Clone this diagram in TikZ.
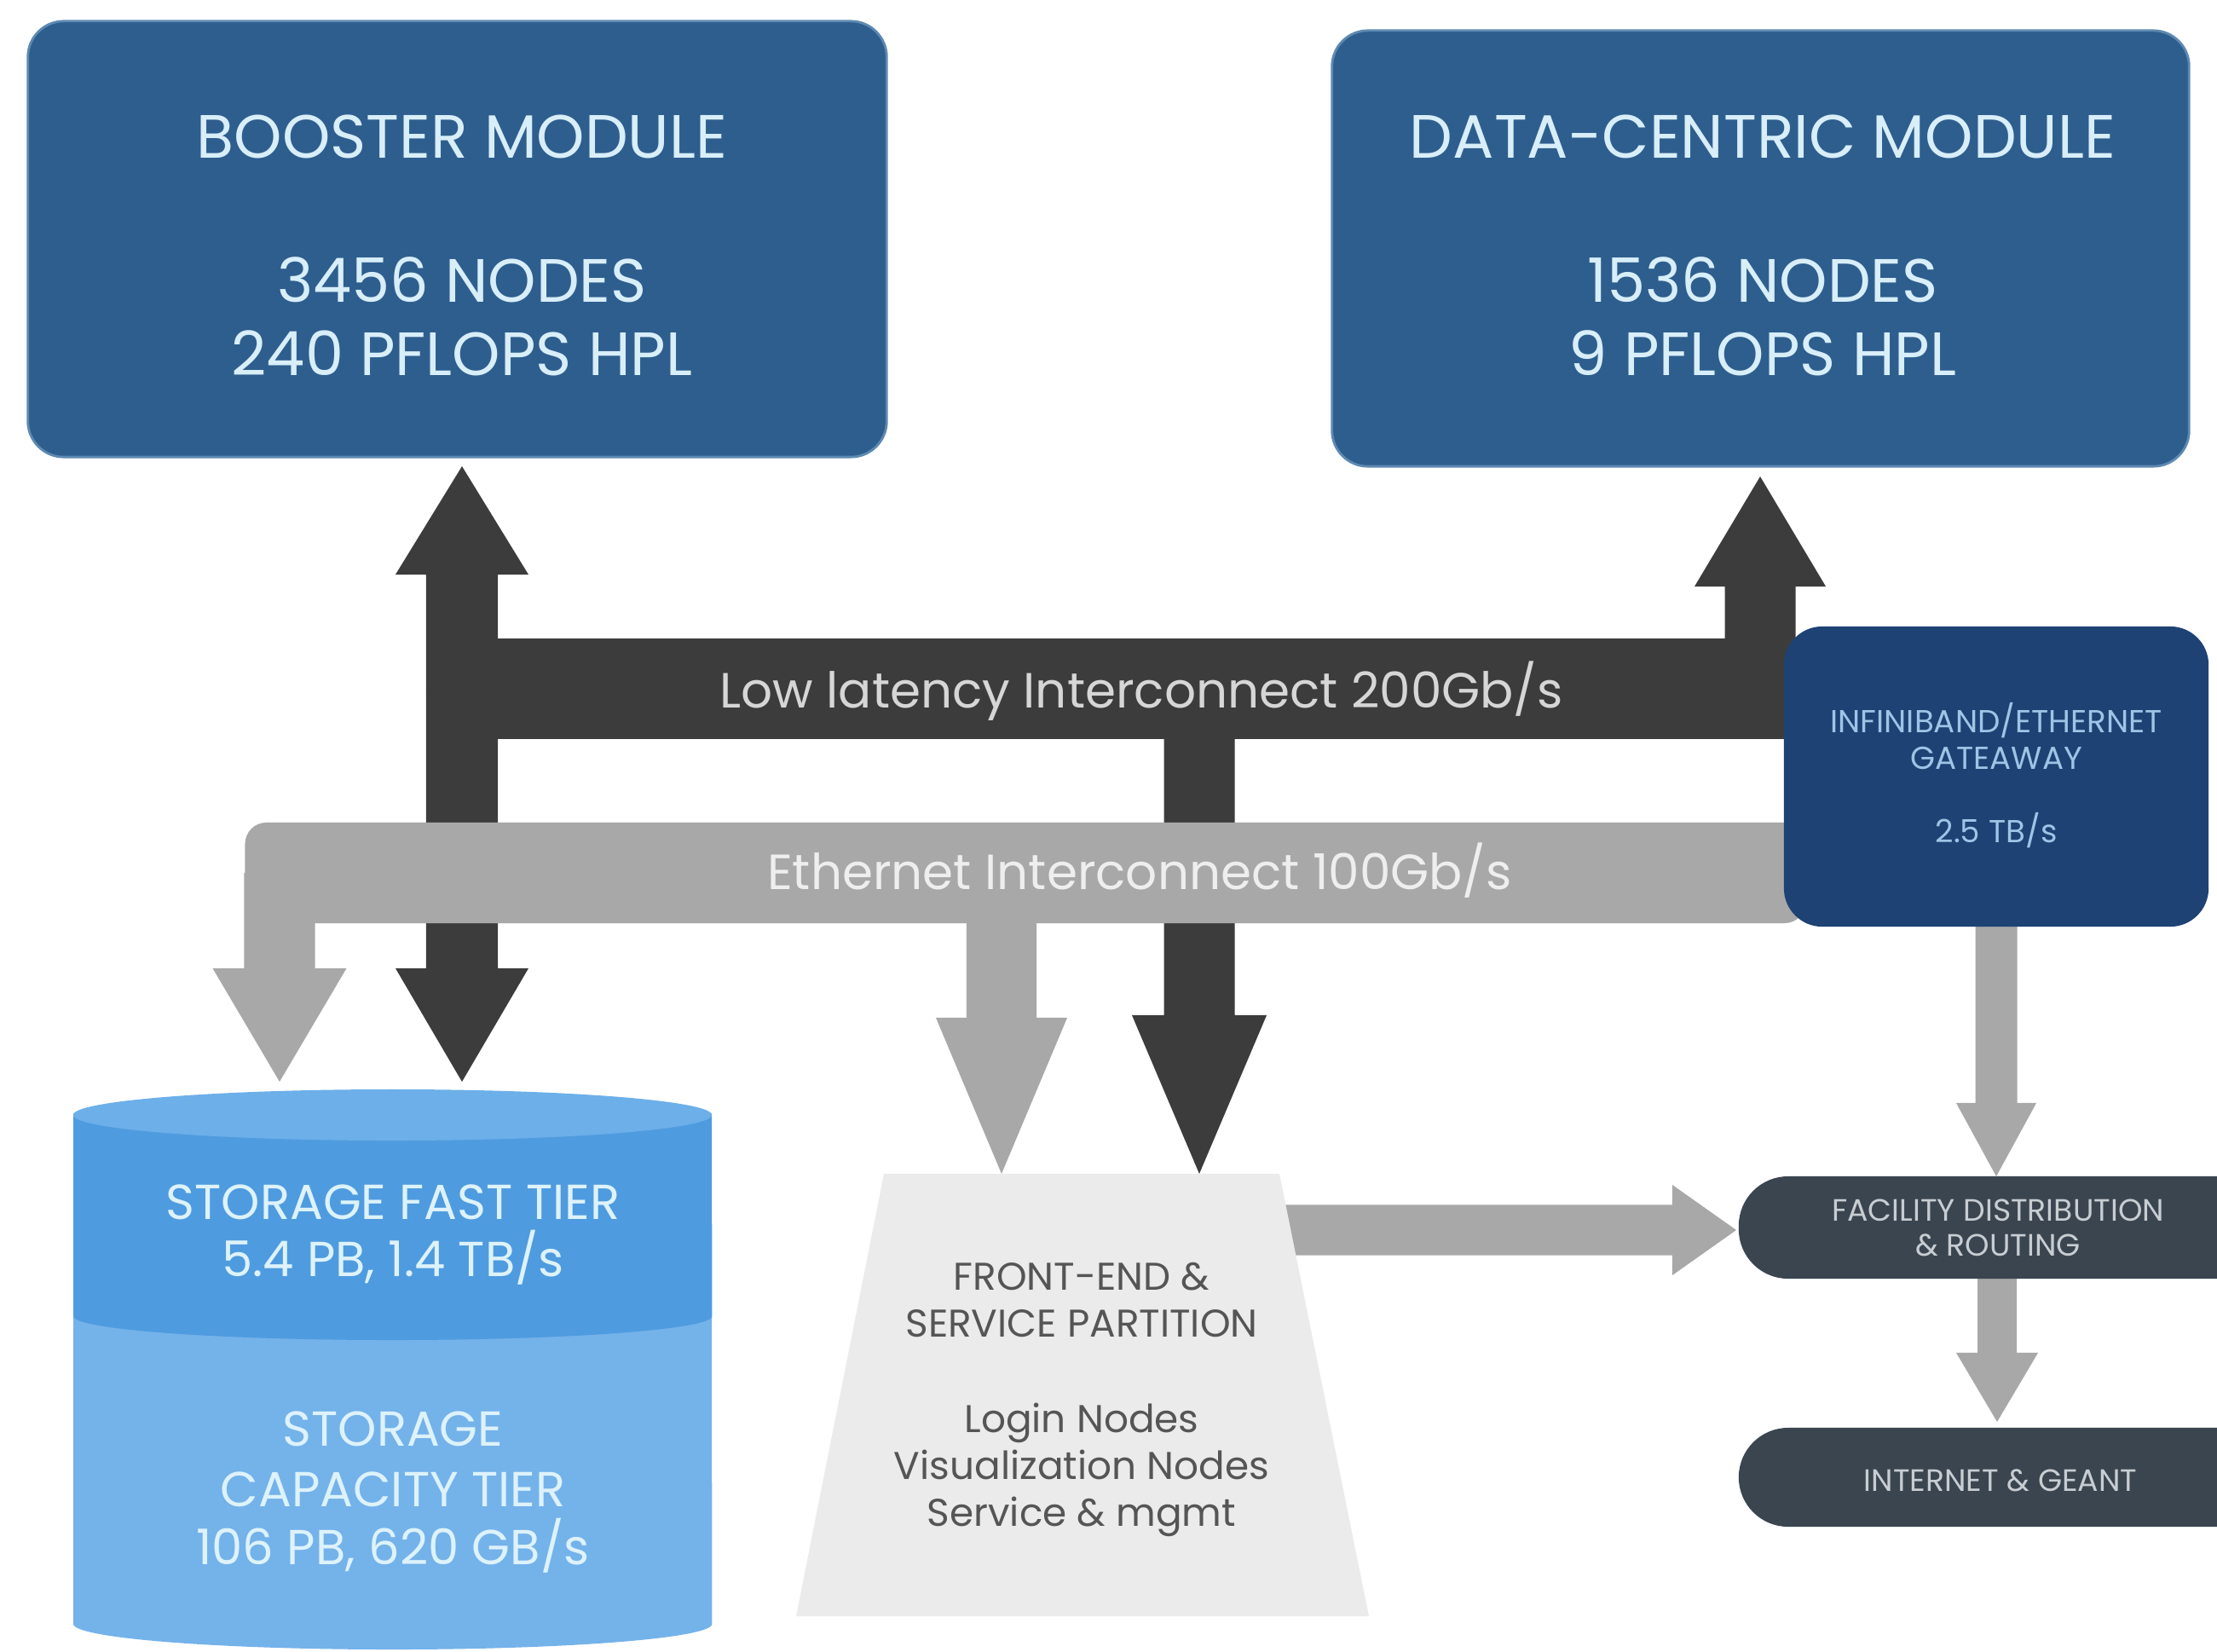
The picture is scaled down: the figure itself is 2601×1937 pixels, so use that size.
\documentclass[tikz,border=0pt]{standalone}
\usepackage{fontspec}
\setmainfont{Poppins}
\usetikzlibrary{calc}
\pgfdeclarelayer{darkl}
\pgfdeclarelayer{grayl}
\pgfsetlayers{darkl,grayl,main}
\definecolor{modblue}{HTML}{2E5E8E}
\definecolor{modedge}{HTML}{5E89B2}
\definecolor{modtext}{HTML}{D8EEF8}
\definecolor{darkarr}{HTML}{3C3C3C}
\definecolor{grayarr}{HTML}{A8A8A8}
\definecolor{gwblue}{HTML}{1E4274}
\definecolor{gwtext}{HTML}{9FC4E6}
\definecolor{slate}{HTML}{3A4550}
\definecolor{slatetext}{HTML}{C8CDD2}
\definecolor{fasttier}{HTML}{4F9BDF}
\definecolor{fasttop}{HTML}{6CAFE9}
\definecolor{captier}{HTML}{74B2EA}
\definecolor{stortext}{HTML}{DDF2FA}
\definecolor{fefill}{HTML}{EBEBEC}
\definecolor{fetext}{HTML}{555555}
\definecolor{lltext}{HTML}{D6D6D6}
\definecolor{ethtext}{HTML}{EEEEEE}
% fat block arrow: #1 start, #2 tip, #3 half shaft, #4 half head, #5 head length, #6 colour
\newcommand{\fatarr}[6]{%
  \path ($(#2)!#5!(#1)$) coordinate (fa-hb);
  \fill[#6] ($(#1)!#3!-90:(#2)$) -- ($(fa-hb)!#3!-90:(#2)$) -- ($(fa-hb)!#4!-90:(#2)$) -- (#2)
    -- ($(fa-hb)!#4!90:(#2)$) -- ($(fa-hb)!#3!90:(#2)$) -- ($(#1)!#3!90:(#2)$) -- cycle;}
\begin{document}
\begin{tikzpicture}[x=0.01cm,y=-0.01cm,
  every node/.style={inner sep=0pt, outer sep=0pt},
  modbox/.style={rectangle, fill=modblue, draw=modedge, line width=0.8pt, rounded corners=0.42cm},
  modtxt/.style={text=modtext, font=\fontsize{20.4}{24}\selectfont, anchor=base},
  bartxt/.style={font=\fontsize{16.5}{20}\selectfont, anchor=base},
  gwtxt/.style={text=gwtext, font=\fontsize{10.6}{12}\selectfont, anchor=base},
  sltxt/.style={text=slatetext, font=\fontsize{10.3}{12}\selectfont, anchor=base},
  sttxt/.style={text=stortext, font=\fontsize{16.4}{19}\selectfont, anchor=base},
  fetxt/.style={text=fetext, font=\fontsize{12.9}{15}\selectfont, anchor=base},
  slbox/.style={rectangle, fill=slate, rounded corners=0.58cm}]
\useasboundingbox (0,0) rectangle (2601,1937);

% ---------- module boxes ----------
\node[modbox, minimum width=10.07cm, minimum height=5.11cm] (booster) at (536.5,280.5) {};
\node[modbox, minimum width=10.05cm, minimum height=5.11cm] (datac) at (2065.5,291.5) {};
\node[modtxt] (bo1) at (542,186) {BOOSTER MODULE};
\node[modtxt] (bo2) at (542,355) {3456 NODES};
\node[modtxt] (bo3) at (542,441) {240 PFLOPS HPL};
\node[modtxt] (dc1) at (2068,186) {DATA-CENTRIC MODULE};
\node[modtxt] (dc2) at (2068,355) {1536 NODES};
\node[modtxt] (dc3) at (2068,441) {9 PFLOPS HPL};

% ---------- gateway ----------
\node[rectangle, fill=gwblue, rounded corners=0.45cm, minimum width=4.98cm, minimum height=3.52cm] (gateway) at (2342,911) {};
\node[gwtxt] (gw1) at (2342,859) {INFINIBAND/ETHERNET};
\node[gwtxt] (gw2) at (2342,902) {GATEAWAY};
\node[gwtxt] (gw3) at (2342,988) {2.5 TB/s};

% ---------- facility / internet ----------
\node[slbox, minimum width=6.4cm, minimum height=1.2cm] (facility) at (2360,1440) {};
\node[slbox, minimum width=6.4cm, minimum height=1.16cm] (internet) at (2360,1733) {};
\node[sltxt] (fa1) at (2344,1432) {FACILITY DISTRIBUTION};
\node[sltxt] (fa2) at (2344,1473) {\& ROUTING};
\node[sltxt] (in1) at (2347,1749) {INTERNET \& GEANT};

% ---------- front-end partition ----------
\fill[fefill] (1037,1377) -- (1501,1377) -- (1606,1896) -- (934,1896) -- cycle;
\node[fetxt] (fe1) at (1269,1513) {FRONT-END \&};
\node[fetxt] (fe2) at (1269,1568) {SERVICE PARTITION};
\node[fetxt] (fe3) at (1269,1680) {Login Nodes};
\node[fetxt] (fe4) at (1269,1735) {Visualization Nodes};
\node[fetxt] (fe5) at (1269,1790) {Service \& mgmt};

% ---------- storage cylinder ----------
\fill[captier] (86,1544) -- (86,1905) arc[start angle=180, end angle=360, x radius=3.745cm, y radius=0.3cm] -- (835,1544) -- cycle;
\fill[fasttier] (86,1308) -- (86,1544) arc[start angle=180, end angle=360, x radius=3.745cm, y radius=0.28cm] -- (835,1308) -- cycle;
\fill[fasttop] (460.5,1308) ellipse [x radius=3.745cm, y radius=0.3cm];
\node[sttxt] (st1) at (461,1430) {STORAGE FAST TIER};
\node[sttxt] (st2) at (461,1497) {5.4 PB, 1.4 TB/s};
\node[sttxt] (st3) at (461,1696) {STORAGE};
\node[sttxt] (st4) at (461,1767) {CAPACITY TIER};
\node[sttxt] (st5) at (461,1835) {106 PB, 620 GB/s};

% ---------- low latency interconnect (dark) ----------
\begin{pgfonlayer}{darkl}
\node[rectangle, fill=darkarr, minimum width=16.1cm, minimum height=1.18cm] (llbar) at (1305,808) {};
\coordinate (bk-mid) at (542,808);
\coordinate (bk-top) at (542,547);
\coordinate (bk-bot) at (542,1269);
\coordinate (dc-mid) at (2065,808);
\coordinate (dc-top) at (2065,559);
\coordinate (fe-mid2) at (1407,808);
\coordinate (fe-in2) at (1407,1377);
\fatarr{bk-mid}{bk-top}{0.42cm}{0.78cm}{1.27cm}{darkarr}
\fatarr{bk-mid}{bk-bot}{0.42cm}{0.78cm}{1.33cm}{darkarr}
\fatarr{dc-mid}{dc-top}{0.415cm}{0.77cm}{1.29cm}{darkarr}
\fatarr{fe-mid2}{fe-in2}{0.415cm}{0.79cm}{1.86cm}{darkarr}
\end{pgfonlayer}
\node[bartxt, text=lltext] (lltxt) at (1339,830) {Low latency Interconnect 200Gb/s};

% ---------- ethernet interconnect (grey) ----------
\begin{pgfonlayer}{grayl}
\node[rectangle, fill=grayarr, rounded corners=0.25cm, minimum width=18.3cm, minimum height=1.18cm] (ethbar) at (1203,1024) {};
\coordinate (st-mid) at (328,1024);
\coordinate (st-in1) at (328,1269);
\coordinate (fe-mid1) at (1175,1024);
\coordinate (fe-in1) at (1175,1377);
\coordinate (gw-out) at (2342,1050);
\coordinate (fac-in) at (2342,1380);
\coordinate (fe-out) at (1480,1443);
\coordinate (fac-w) at (2037,1443);
\coordinate (fac-out) at (2343,1480);
\coordinate (int-in) at (2343,1668);
\fatarr{st-mid}{st-in1}{0.415cm}{0.785cm}{1.33cm}{grayarr}
\fatarr{fe-mid1}{fe-in1}{0.41cm}{0.77cm}{1.83cm}{grayarr}
\fatarr{gw-out}{fac-in}{0.245cm}{0.47cm}{0.86cm}{grayarr}
\fatarr{fe-out}{fac-w}{0.295cm}{0.53cm}{0.75cm}{grayarr}
\fatarr{fac-out}{int-in}{0.23cm}{0.48cm}{0.81cm}{grayarr}
\end{pgfonlayer}
\node[bartxt, text=ethtext] (ethtxt) at (1337,1043) {Ethernet Interconnect 100Gb/s};
\end{tikzpicture}
\end{document}
